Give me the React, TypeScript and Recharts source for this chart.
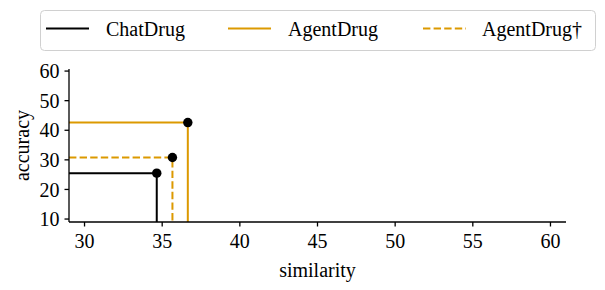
import { ComposedChart, Line, Scatter, XAxis, YAxis, Label } from "recharts";

const methods = ["ChatDrug", "AgentDrug", "AgentDrug†"];
const similarity = [34.65, 36.65, 35.66];
const accuracy = [25.5, 42.6, 30.8];
const lineColors = ["#000000", "#DC9900", "#DC9900"];
const lineDashes = [undefined, undefined, "7.4 3.2"];

const xTicks = [30, 35, 40, 45, 50, 55, 60];
const yTicks = [10, 20, 30, 40, 50, 60];
const xDomain: [number, number] = [29, 61];
const yDomain: [number, number] = [9, 60.7];

const FONT = "Liberation Serif";
const textStyle = { fontFamily: FONT, fontSize: 20 };

// elbow from the left spine to the point, then down to the bottom spine
const elbows = methods.map((_, i) => [
  { x: xDomain[0], y: accuracy[i] },
  { x: similarity[i], y: accuracy[i] },
  { x: similarity[i], y: yDomain[0] },
]);
const points = methods.map((name, i) => ({ name, x: similarity[i], y: accuracy[i] }));

function Dot(props: any) {
  return <circle cx={props.cx} cy={props.cy} r={4.7} fill="#000" />;
}

function ChartLegend() {
  const items = [
    { x: 46, tx: 106 },
    { x: 228, tx: 288 },
    { x: 423, tx: 482 },
  ];
  return (
    <svg width={605} height={60} style={{ position: "absolute", left: 0, top: 0 }}>
      <rect x={40.5} y={10.5} width={555} height={40} rx={4} fill="#fff" stroke="#d0d0d0" />
      {items.map((it, i) => (
        <g key={methods[i]}>
          <line
            x1={it.x}
            x2={it.x + 43}
            y1={28.5}
            y2={28.5}
            stroke={lineColors[i]}
            strokeWidth={2}
            strokeDasharray={lineDashes[i]}
          />
          <text x={it.tx} y={35.5} style={textStyle} fill="#000">
            {methods[i]}
          </text>
        </g>
      ))}
    </svg>
  );
}

export default function App() {
  const tickStyle = { fill: "#000", fontSize: 20, fontFamily: FONT, style: textStyle };
  return (
    <div
      style={{
        position: "absolute",
        left: 0,
        top: 0,
        width: 605,
        height: 290,
        background: "#fff",
        fontFamily: FONT,
      }}
    >
      <ComposedChart width={605} height={290} margin={{ top: 69, right: 39, left: 0, bottom: 0 }}>
        <XAxis
          type="number"
          dataKey="x"
          domain={xDomain}
          ticks={xTicks}
          interval={0}
          allowDataOverflow
          height={68}
          tick={tickStyle}
          tickSize={4.5}
          tickMargin={7}
          axisLine={{ stroke: "#000", strokeWidth: 1.3 }}
          tickLine={{ stroke: "#000", strokeWidth: 1.3 }}
        >
          <Label
            content={(p: any) => (
              <text
                x={p.viewBox.x + p.viewBox.width / 2}
                y={277}
                textAnchor="middle"
                style={textStyle}
                fill="#000"
              >
                similarity
              </text>
            )}
          />
        </XAxis>
        <YAxis
          type="number"
          dataKey="y"
          domain={yDomain}
          ticks={yTicks}
          interval={0}
          allowDataOverflow
          width={69}
          tick={tickStyle}
          tickSize={4.5}
          tickMargin={5}
          axisLine={{ stroke: "#000", strokeWidth: 1.3 }}
          tickLine={{ stroke: "#000", strokeWidth: 1.3 }}
        >
          <Label
            content={(p: any) => {
              const cy = p.viewBox.y + p.viewBox.height / 2;
              return (
                <text
                  x={29}
                  y={cy}
                  transform={`rotate(-90, 29, ${cy})`}
                  textAnchor="middle"
                  style={textStyle}
                  fill="#000"
                >
                  accuracy
                </text>
              );
            }}
          />
        </YAxis>
        {elbows.map((d, i) => (
          <Line
            key={methods[i]}
            data={d}
            dataKey="y"
            type="linear"
            stroke={lineColors[i]}
            strokeWidth={2}
            strokeDasharray={lineDashes[i]}
            dot={false}
            activeDot={false}
            isAnimationActive={false}
          />
        ))}
        <Scatter data={points} dataKey="y" shape={Dot} isAnimationActive={false} />
      </ComposedChart>
      <ChartLegend />
    </div>
  );
}
